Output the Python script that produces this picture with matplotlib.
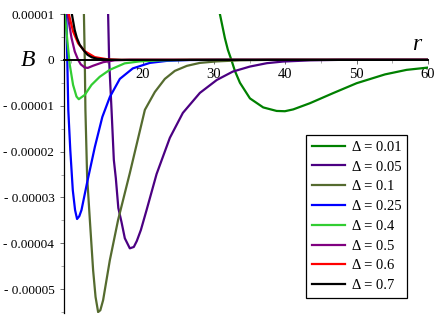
import numpy as np
import matplotlib
matplotlib.use("Agg")
import matplotlib.pyplot as plt
from matplotlib.ticker import FixedLocator, FixedFormatter, MultipleLocator

plt.rcParams['font.family'] = ['Liberation Serif', 'DejaVu Serif']

# B values are read in units of 1e-5
SCALE = 1e-5

deltas = [0.01, 0.05, 0.1, 0.25, 0.4, 0.5, 0.6, 0.7]
colors = ['#008000', '#4B0082', '#556B2F', '#0000FF',
          '#32CD32', '#800080', '#FF0000', '#000000']

r_001 = [30.84, 31.54, 31.96, 32.45, 32.94, 33.65, 35.05, 36.91, 38.79, 39.95,
         41.12, 43.46, 46.68, 50.0, 53.97, 57.0, 60.0]
b_001 = [1.0, 0.474, 0.218, 0.0, -0.24, -0.50, -0.84, -1.037, -1.114, -1.12,
         -1.08, -0.945, -0.727, -0.509, -0.317, -0.218, -0.168]

r_005 = [15.18, 15.32, 15.66, 15.98, 16.26, 16.61, 17.06, 17.52, 18.22, 18.78,
         19.2, 19.77, 20.56, 21.97, 23.83, 25.65, 28.04, 30.42, 32.66, 35.05,
         37.43, 39.67, 43.46, 47.7, 60.0]
b_005 = [1.0, 0.0, -1.09, -2.18, -2.58, -3.23, -3.54, -3.89, -4.11, -4.08,
         -3.95, -3.71, -3.28, -2.49, -1.70, -1.157, -0.72, -0.437, -0.255, -0.146,
         -0.072, -0.037, -0.011, 0.0, 0.0]

r_01 = [11.79, 11.91, 12.0, 12.24, 12.62, 13.08, 13.42, 13.78, 14.09, 14.48,
        15.42, 16.58, 18.22, 20.33, 21.73, 23.13, 24.53, 26.21, 28.04, 30.42,
        33.6, 37.9, 60.0]
b_01 = [1.0, 0.0, -1.09, -2.55, -3.49, -4.59, -5.17, -5.50, -5.46, -5.24,
        -4.37, -3.49, -2.47, -1.09, -0.70, -0.415, -0.24, -0.131, -0.066, -0.033,
        -0.011, 0.0, 0.0]

r_025 = [9.32, 9.46, 9.6, 9.88, 10.23, 10.55, 10.83, 11.14, 11.45, 12.26,
         13.32, 14.37, 15.42, 16.82, 18.64, 21.03, 23.41, 26.6, 30.8, 60.0]
b_025 = [1.0, 0.0, -1.09, -1.965, -2.84, -3.275, -3.47, -3.41, -3.275, -2.66,
         -1.90, -1.245, -0.81, -0.415, -0.186, -0.066, -0.022, -0.004, 0.0, 0.0]

r_04 = [9.11, 9.57, 9.81, 10.27, 10.75, 11.07, 11.91, 12.85, 14.0, 15.4,
        17.5, 19.6, 22.4, 26.6, 60.0]
b_04 = [1.0, 0.255, -0.109, -0.546, -0.80, -0.858, -0.764, -0.546, -0.37, -0.218,
        -0.076, -0.033, -0.011, 0.0, 0.0]

r_05 = [9.49, 10.05, 10.51, 10.98, 11.35, 11.91, 12.34, 13.04, 14.5, 16.1, 18.2, 60.0]
b_05 = [1.0, 0.48, 0.18, 0.0, -0.098, -0.168, -0.175, -0.13, -0.05, -0.01, 0.0, 0.0]

r_06 = [9.67, 10.27, 10.98, 11.9, 13.3, 15.1, 17.0, 60.0]
b_06 = [1.0, 0.62, 0.36, 0.19, 0.06, 0.012, 0.0, 0.0]

r_07 = [10.1, 10.5, 10.8, 11.2, 11.8, 12.3, 12.9, 13.7, 15.4, 17.1, 60.0]
b_07 = [1.0, 0.65, 0.48, 0.33, 0.20, 0.11, 0.055, 0.022, 0.004, 0.0, 0.0]

curves = [(r_001, b_001), (r_005, b_005), (r_01, b_01), (r_025, b_025),
          (r_04, b_04), (r_05, b_05), (r_06, b_06), (r_07, b_07)]

x_ticks = [20, 30, 40, 50, 60]
y_ticks = [-5, -4, -3, -2, -1, 0, 1]
y_labels = ['- 0.00005', '- 0.00004', '- 0.00003', '- 0.00002', '- 0.00001', '0', '0.00001']

fig = plt.figure(figsize=(4.36, 3.22), dpi=100)
ax = fig.add_axes([0.1468, 0.0280, 0.8349, 0.9285])

for (r, b), d, c in zip(curves, deltas, colors):
    ax.plot(r, np.array(b) * SCALE, color=c, lw=1.6, label='\u0394 = {}'.format(d))

ax.set_xlim(9, 60)
ax.set_ylim(-5.52 * SCALE, 1.0 * SCALE)

ax.spines['top'].set_visible(False)
ax.spines['right'].set_visible(False)
ax.spines['bottom'].set_position(('data', 0))
ax.spines['bottom'].set_linewidth(1.4)
ax.spines['left'].set_linewidth(0.9)

ax.xaxis.set_major_locator(FixedLocator(x_ticks))
ax.xaxis.set_minor_locator(MultipleLocator(5))
ax.yaxis.set_major_locator(FixedLocator([v * SCALE for v in y_ticks]))
ax.yaxis.set_major_formatter(FixedFormatter(y_labels))
ax.yaxis.set_minor_locator(MultipleLocator(0.5 * SCALE))
ax.tick_params(axis='both', which='major', direction='out', length=3, width=0.6,
               color='#555555')
ax.tick_params(axis='both', which='minor', direction='out', length=2, width=0.5,
               color='#888888')
ax.tick_params(axis='x', pad=3, labelsize=10.5)
ax.tick_params(axis='y', pad=4, labelsize=9.5)

fig.text(28, 322 - 60, 'B', transform=None, fontsize=17, style='italic',
         ha='center', va='center')
fig.text(417, 322 - 45, 'r', transform=None, fontsize=17, style='italic',
         ha='center', va='center')

leg = ax.legend(loc='lower left', bbox_to_anchor=(0.665, 0.05), fontsize=10.5,
                frameon=True, fancybox=False, framealpha=1, edgecolor='black',
                handlelength=2.3, handletextpad=0.45, labelspacing=0.45,
                borderpad=0.4, borderaxespad=0)
leg.get_frame().set_linewidth(0.9)

fig.savefig('out.png', dpi=100)
